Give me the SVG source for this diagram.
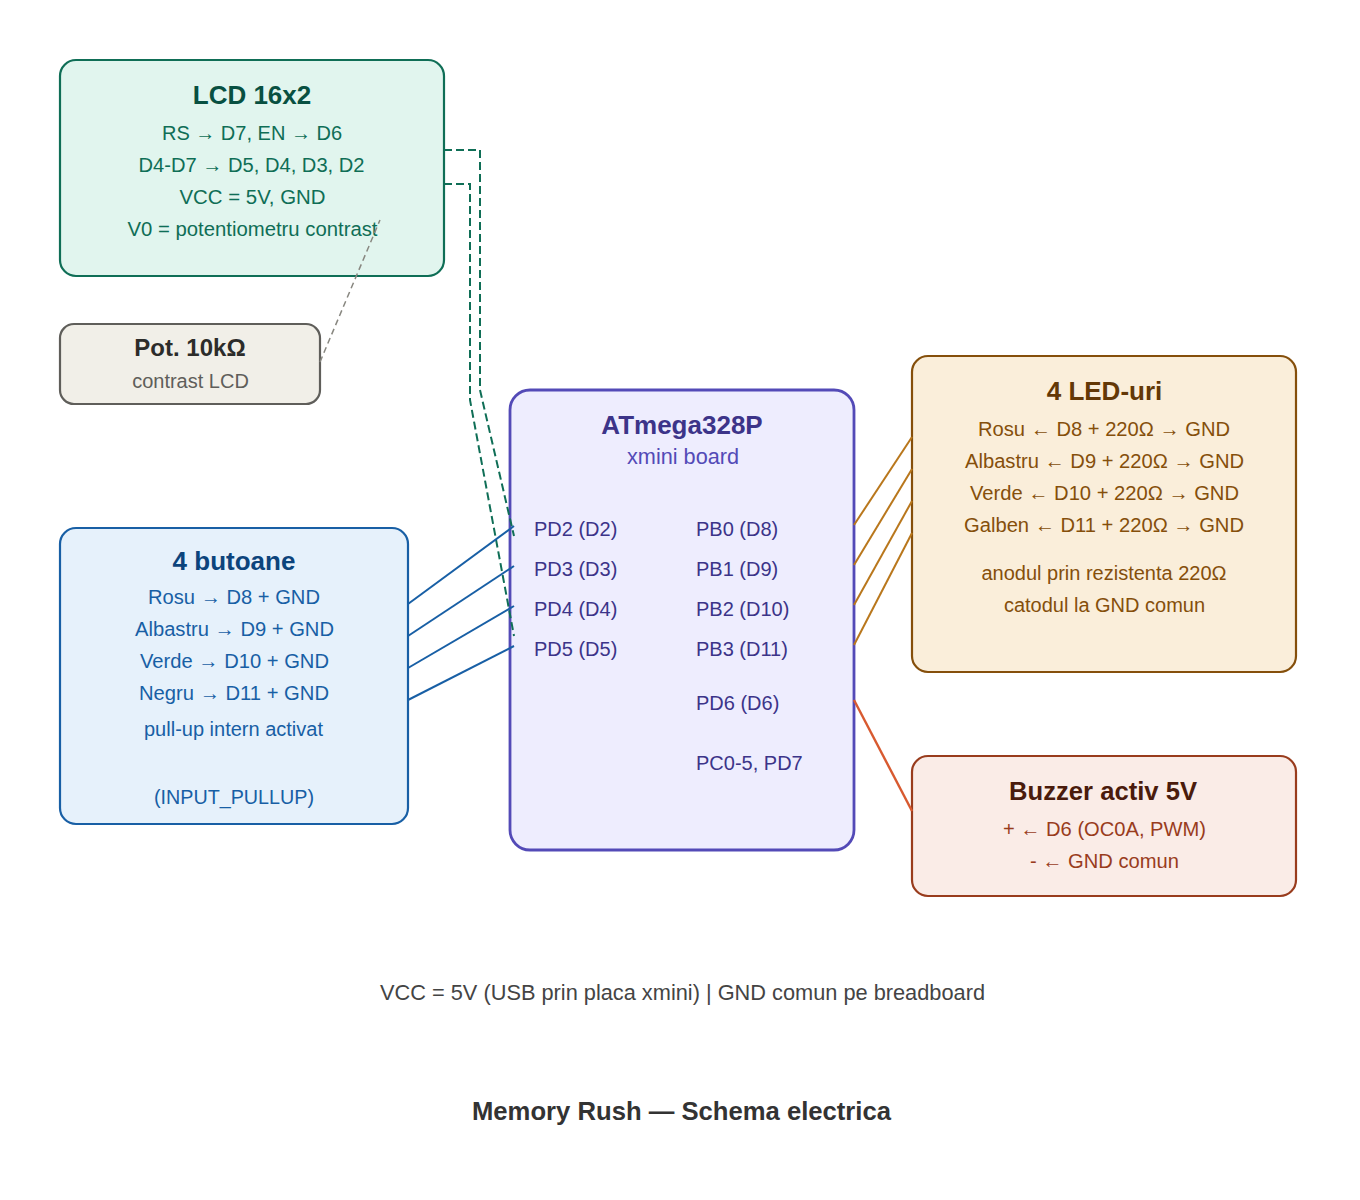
<svg xmlns="http://www.w3.org/2000/svg" width="1360" height="1200" viewBox="0 0 1360 1200">
<style>
text{font-family:"Liberation Sans",Arial,sans-serif;text-anchor:middle;font-size:20px}
.t{font-size:26px;font-weight:bold}
.box{stroke-width:2.2px}
.l{text-anchor:start}
</style>
<rect width="1360" height="1200" fill="#fff"/>
<g id="lcd">
<rect class="box" x="60" y="60" width="384" height="216" rx="16" fill="#e1f5ee" stroke="#0f6e56"/>
<text class="t" x="252" y="104" fill="#085041">LCD 16x2</text>
<g fill="#0f6e56"><text x="252" y="140">RS → D7, EN → D6</text>
<text x="251.500" y="172" textLength="226" lengthAdjust="spacingAndGlyphs">D4-D7 → D5, D4, D3, D2</text>
<text x="252.500" y="204" textLength="146" lengthAdjust="spacingAndGlyphs">VCC = 5V, GND</text>
<text x="252.500" y="236" textLength="250" lengthAdjust="spacingAndGlyphs">V0 = potentiometru contrast</text></g>
</g>
<g id="pot">
<rect class="box" x="60" y="324" width="260" height="80" rx="14" fill="#f1efe8" stroke="#5f5e5a"/>
<text x="190" y="356" style="font-size:24px;font-weight:bold" fill="#2c2c2a">Pot. 10kΩ</text>
<text x="190.500" y="388" fill="#5f5e5a">contrast LCD</text>
</g>
<g id="butoane">
<rect class="box" x="60" y="528" width="348" height="296" rx="16" fill="#e6f1fb" stroke="#185fa5"/>
<text class="t" x="234" y="570" fill="#0c447c">4 butoane</text>
<g fill="#185fa5"><text x="234" y="604" textLength="172" lengthAdjust="spacingAndGlyphs">Rosu → D8 + GND</text>
<text x="234.500" y="636" textLength="199" lengthAdjust="spacingAndGlyphs">Albastru → D9 + GND</text>
<text x="234.500" y="668" textLength="189" lengthAdjust="spacingAndGlyphs">Verde → D10 + GND</text>
<text x="234" y="700" textLength="190" lengthAdjust="spacingAndGlyphs">Negru → D11 + GND</text>
<text x="233.500" y="736">pull-up intern activat</text>
<text x="234" y="804" textLength="160" lengthAdjust="spacingAndGlyphs">(INPUT_PULLUP)</text></g>
</g>
<g id="atmega">
<rect x="510" y="390" width="344" height="460" rx="20" fill="#eeedfe" stroke="#534ab7" stroke-width="2.8"/>
<text class="t" x="682" y="434" fill="#3c3489">ATmega328P</text>
<text x="683" y="464" style="font-size:22px" textLength="112" lengthAdjust="spacingAndGlyphs" fill="#534ab7">xmini board</text>
<g fill="#3c3489"><text class="l" x="534" y="536">PD2 (D2)</text>
<text class="l" x="534" y="576">PD3 (D3)</text>
<text class="l" x="534" y="616">PD4 (D4)</text>
<text class="l" x="534" y="656">PD5 (D5)</text>
<text class="l" x="696" y="536">PB0 (D8)</text>
<text class="l" x="696" y="576">PB1 (D9)</text>
<text class="l" x="696" y="616">PB2 (D10)</text>
<text class="l" x="696" y="656">PB3 (D11)</text>
<text class="l" x="696" y="710">PD6 (D6)</text>
<text class="l" x="696" y="770">PC0-5, PD7</text></g>
</g>
<g id="leduri">
<rect class="box" x="912" y="356" width="384" height="316" rx="16" fill="#faeeda" stroke="#854f0b"/>
<text class="t" x="1104.500" y="400" fill="#633806">4 LED-uri</text>
<g fill="#854f0b"><text x="1104" y="436" textLength="252" lengthAdjust="spacingAndGlyphs">Rosu ← D8 + 220Ω → GND</text>
<text x="1104.500" y="468" textLength="279" lengthAdjust="spacingAndGlyphs">Albastru ← D9 + 220Ω → GND</text>
<text x="1104.500" y="500" textLength="269" lengthAdjust="spacingAndGlyphs">Verde ← D10 + 220Ω → GND</text>
<text x="1104" y="532" textLength="280" lengthAdjust="spacingAndGlyphs">Galben ← D11 + 220Ω → GND</text>
<text x="1104" y="580">anodul prin rezistenta 220Ω</text>
<text x="1104.500" y="612">catodul la GND comun</text></g>
</g>
<g id="buzzer">
<rect class="box" x="912" y="756" width="384" height="140" rx="16" fill="#faece7" stroke="#993c1d"/>
<text class="t" x="1103" y="800" textLength="188" lengthAdjust="spacingAndGlyphs" fill="#4a1b0c">Buzzer activ 5V</text>
<g fill="#993c1d"><text x="1104.500" y="836" textLength="203" lengthAdjust="spacingAndGlyphs">+ ← D6 (OC0A, PWM)</text>
<text x="1104.500" y="868" textLength="149" lengthAdjust="spacingAndGlyphs">- ← GND comun</text></g>
</g>
<g id="connectors" fill="none">
<g stroke="#0f6e56" stroke-width="2" stroke-dasharray="8 4">
<path d="M444 150H480V390L514 536"/>
<path d="M444 184H470V400L514 636"/>
</g>
<path d="M320 362L380 220" stroke="#888780" stroke-width="1.5" stroke-dasharray="6 4"/>
<g stroke="#185fa5" stroke-width="2">
<path d="M408 604L514 526"/><path d="M408 636L514 566"/><path d="M408 668L514 606"/><path d="M408 700L514 646"/>
</g>
<g stroke="#b9771c" stroke-width="2">
<path d="M854 525L912 437"/><path d="M854 565L912 469"/><path d="M854 605L912 501"/><path d="M854 645L912 533"/>
</g>
<path d="M854 700L912 811" stroke="#d85a30" stroke-width="2.4"/>
</g>
<text x="682.500" y="1000" style="font-size:22px" textLength="605" lengthAdjust="spacingAndGlyphs" fill="#444">VCC = 5V (USB prin placa xmini) | GND comun pe breadboard</text>
<text x="681.500" y="1120" class="t" textLength="419" lengthAdjust="spacingAndGlyphs" fill="#333">Memory Rush — Schema electrica</text>
</svg>
